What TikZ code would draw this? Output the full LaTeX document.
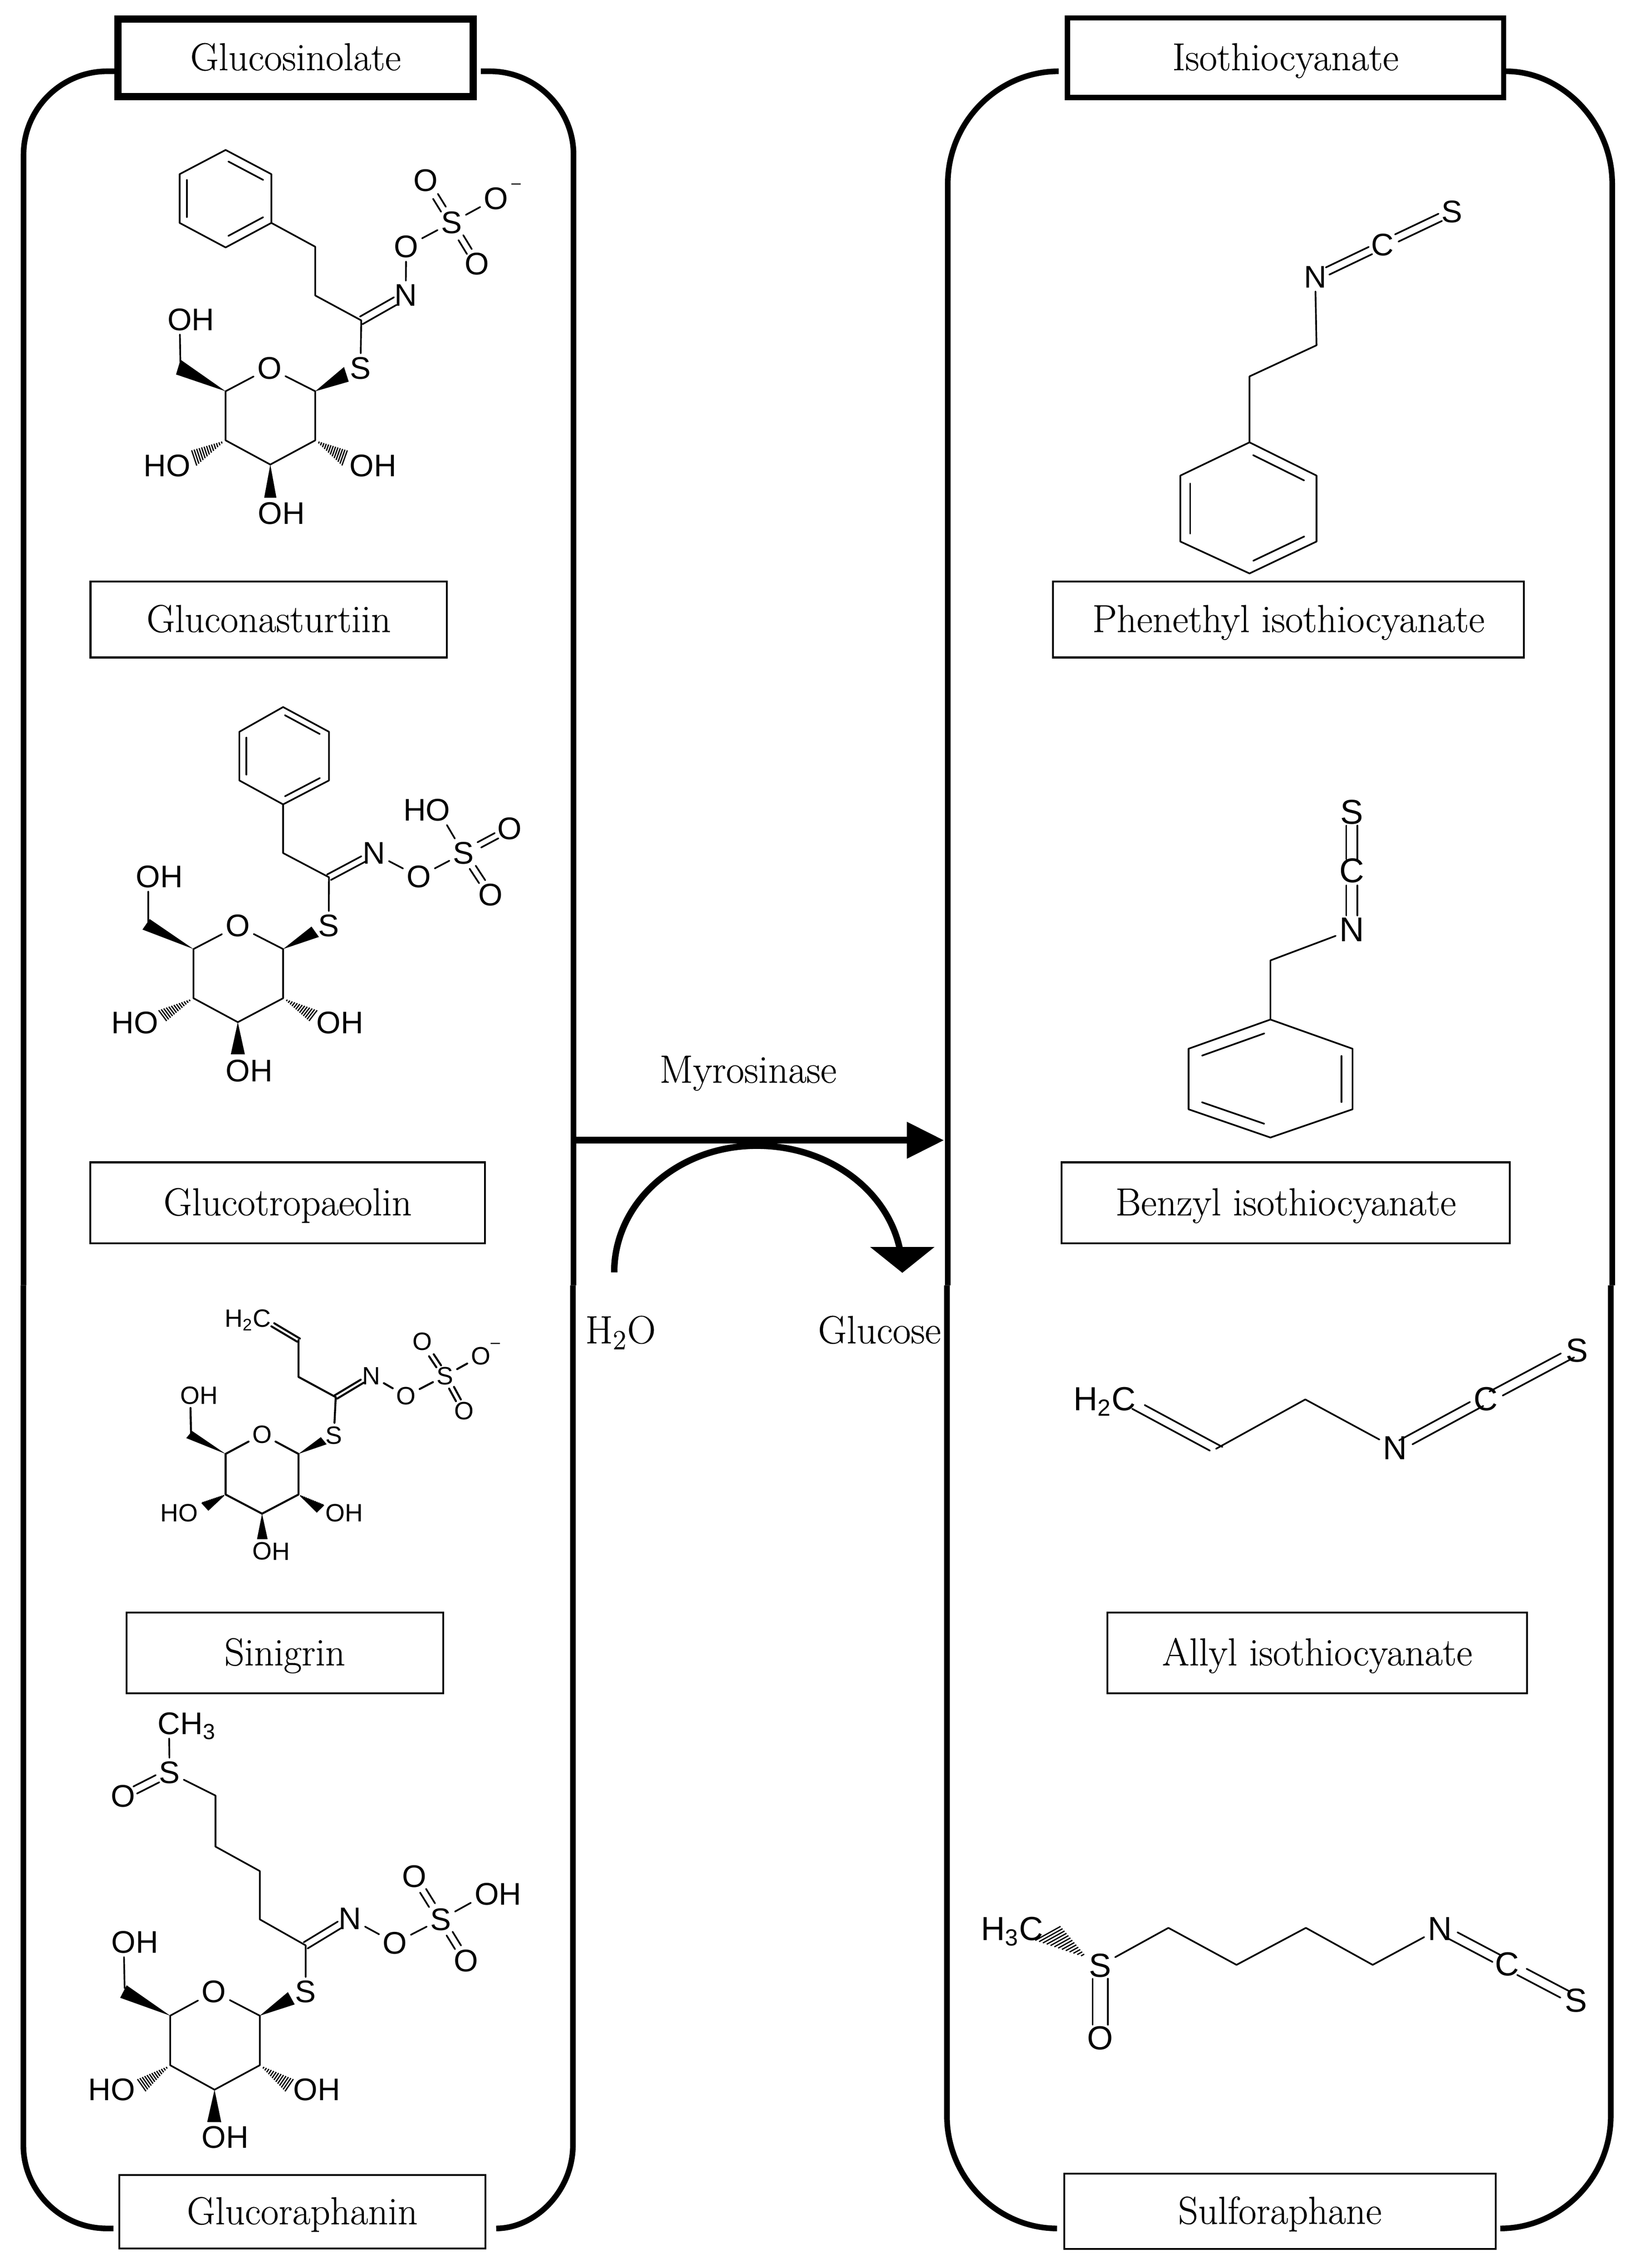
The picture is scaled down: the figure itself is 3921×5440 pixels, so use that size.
\documentclass[tikz,border=0pt]{standalone}
\usepackage{fontspec}
\usetikzlibrary{calc,arrows.meta,bending}
\newfontfamily\cfam{Liberation Sans}
\newfontfamily\tfam{Latin Modern Roman}[FakeBold=0.35]
\def\csz{15}
\def\wsz{4.6pt}
\def\hsz{5pt}
\tikzset{
  bond/.style={line width=0.8pt,line cap=round,line join=round},
  hashl/.style={line width=0.6pt},
  frame/.style={line width=2.7pt},
  atom/.style={inner sep=0pt,outer sep=1.8pt,font=\cfam\fontsize{\csz}{18}\selectfont},
  lab/.style={inner sep=0pt,outer sep=0pt,font=\cfam\fontsize{\csz}{18}\selectfont},
  minus/.style={inner sep=0pt,font=\cfam\fontsize{8}{9}\selectfont},
  txt/.style={inner sep=0pt,font=\tfam\fontsize{18.9}{21}\selectfont},
  box/.style={draw,rectangle,line width=0.9pt,inner sep=0pt,text height=14pt,text depth=2pt,font=\tfam\fontsize{18.7}{21}\selectfont},
  size/.style 2 args={minimum width=#1*0.2pt,minimum height=#2*0.2pt},
}
\newcommand\atomR[4]{\node[atom] (#1) at #2 {#3}; \node[lab,anchor=base west,xshift=-1.8pt] at (#1.base east) {#4};}
\newcommand\atomL[4]{\node[atom] (#1) at #2 {#3}; \node[lab,anchor=base east,xshift=1.8pt] at (#1.base west) {#4};}
\newcommand\dbl[5]{%
  \draw[bond,shorten <=#4,shorten >=#5] ($(#1)!#3!90:(#2)$) -- ($(#2)!#3!-90:(#1)$);
  \draw[bond,shorten <=#4,shorten >=#5] ($(#1)!#3!-90:(#2)$) -- ($(#2)!#3!90:(#1)$);}
\newcommand\inn[3]{\draw[bond] ($(#1)!.12!(#2)!#3!-90:(#2)$) -- ($(#1)!.88!(#2)!#3!90:(#1)$);}
\newcommand\wdg[2]{\fill ($(#2)!\wsz!90:(#1)$) -- ($(#2)!\wsz!-90:(#1)$) -- (#1) -- cycle;}
\newcommand\hsh[2]{\foreach \hf in {0.12,0.19,...,1.0}{\pgfmathsetlengthmacro\hw{\hf*\hsz}%
  \draw[hashl] ($(#1)!\hf!(#2)!\hw!90:(#1)$) -- ($(#1)!\hf!(#2)!\hw!-90:(#1)$);}}
\newcommand\sugar[1]{%
  \draw[bond] (#1C1)--(#1Or)--(#1C5)--(#1C4)--(#1C3)--(#1C2)--(#1C1);
  \wdg{#1C1}{#1wS}
  \wdg{#1C5}{#1wM}
  \wdg{#1C3}{#1wT}
  \hsh{#1C4}{#1hL}
  \hsh{#1C2}{#1hR}
  \draw[bond] (#1M)--(#1Om);
  \draw[bond] (#1CT)--(#1Sg);}
\begin{document}
\begin{tikzpicture}[x=0.2pt,y=-0.2pt]
\useasboundingbox (0,0) rectangle (3921,5440);

% frames
\draw[frame] (274,171) -- (257,171) .. controls (147,171) and (56.5,261) .. (56.5,371) -- (56.5,3083);
\draw[frame] (56,3083) -- (56,5145) .. controls (56,5255) and (146,5345) .. (256,5345) -- (272,5345);
\draw[frame] (1153,171) -- (1175,171) .. controls (1285,171) and (1375.5,261) .. (1375.5,371) -- (1375.5,3083);
\draw[frame] (1374,3083) -- (1374,5145) .. controls (1374,5255) and (1284,5345) .. (1190,5345);
\draw[frame] (2539,171) .. controls (2394,171) and (2273,292) .. (2273,441) -- (2273,3083);
\draw[frame] (2271,3083) -- (2271,5075) .. controls (2271,5224) and (2392,5345) .. (2535,5345);
\draw[frame] (3612,171) .. controls (3745,171) and (3866.5,292) .. (3866.5,441) -- (3866.5,3083);
\draw[frame] (3863,3083) -- (3863,5075) .. controls (3863,5224) and (3742,5345) .. (3598,5345);

% title and name boxes
\node[box,size={852}{186},line width=3.4pt] (glucosinolate) at (709,138.5) {Glucosinolate};
\node[box,size={1046}{191},line width=2.5pt] (isothiocyanate) at (3083,138.5) {Isothiocyanate};
\node[box,size={855}{182}] (gluconasturtiin) at (644.5,1486) {Gluconasturtiin};
\node[box,size={1130}{182}] (phenethyl) at (3090,1486) {Phenethyl isothiocyanate};
\node[box,size={947}{194}] (glucotropaeolin) at (690,2885) {Glucotropaeolin};
\node[box,size={1075}{194}] (benzyl) at (3083.5,2885) {Benzyl isothiocyanate};
\node[box,size={759}{193}] (sinigrin) at (683,3964.5) {Sinigrin};
\node[box,size={1006}{193}] (allyl) at (3159,3964.5) {Allyl isothiocyanate};
\node[box,size={878}{177}] (glucoraphanin) at (725,5305) {Glucoraphanin};
\node[box,size={1035}{180}] (sulforaphane) at (3069.5,5304) {Sulforaphane};

% central reaction
\coordinate (arrS) at (1381,2735);
\coordinate (arrE) at (2264,2735);
\draw[line width=3.2pt,-{Triangle[length=17.8pt,width=16.8pt]}] (arrS) -- (arrE);
\coordinate (curS) at (1473,3052);
\coordinate (curT) at (1815,2748);
\coordinate (curE) at (2164,3053);
\draw[line width=3.1pt,-{Triangle[length=12.4pt,width=30.2pt,flex=0]}]
  (curS) .. controls (1473,2883) and (1626,2748) .. (curT)
  .. controls (2008,2748) and (2164,2883) .. (curE);
\node[txt,anchor=base] (myro) at (1794,2597) {Myrosinase};
\node[txt,anchor=base west] (water) at (1403,3222) {H\textsubscript{2}O};
\node[txt,anchor=base west] (glucose) at (1961,3222) {Glucose};

% Gluconasturtiin
\begin{scope}[shift={(300,300)},xscale=0.6378,yscale=0.8292]
\coordinate (a1) at (378,72); \coordinate (a2) at (550,142); \coordinate (a3) at (550,283);
\coordinate (a4) at (378,354); \coordinate (a5) at (205,283); \coordinate (a6) at (205,142);
\coordinate (a7) at (715,352); \coordinate (a8) at (715,493); \coordinate (aCT) at (888,565);
\draw[bond] (a1)--(a2)--(a3)--(a4)--(a5)--(a6)--cycle;
\inn{a1}{a2}{5.4pt} \inn{a3}{a4}{5.4pt} \inn{a5}{a6}{5.4pt}
\draw[bond] (a3)--(a7)--(a8)--(aCT);
\node[atom] (aN) at (1055,492) {N};
\node[atom] (aO) at (1057,352) {O};
\node[atom] (aSu) at (1228,282) {S};
\node[atom] (aOu) at (1130,160) {O};
\node[atom] (aOm2) at (1395,212) {O};
\node[atom] (aOl) at (1323,402) {O};
\node[minus] (aMin) at (1470,176) {–};
\node[atom] (aSg) at (885,703) {S};
\node[atom] (aOr) at (543,703) {O};
\dbl{aCT}{aN}{2.4pt}{0pt}{5.8pt}
\draw[bond] (aN)--(aO); \draw[bond] (aO)--(aSu); \draw[bond] (aSu)--(aOm2);
\dbl{aSu}{aOu}{2.3pt}{7.5pt}{9pt}
\dbl{aSu}{aOl}{2.3pt}{8.5pt}{7pt}
\coordinate (aC1) at (715,770); \coordinate (aC5) at (378,770); \coordinate (aC4) at (378,912);
\coordinate (aC3) at (546,982); \coordinate (aC2) at (715,912);
\coordinate (awS) at (832,721); \coordinate (awM) at (200,700); \coordinate (awT) at (546,1078);
\coordinate (ahL) at (255,965); \coordinate (ahR) at (830,965); \coordinate (aM) at (208,690);
\atomR{aOm}{(205,563)}{O}{H}
\atomL{aOL}{(200,985)}{O}{H}
\atomR{aOR}{(890,985)}{O}{H}
\atomR{aOB}{(545,1123)}{O}{H}
\sugar{a}
\end{scope}

% Glucotropaeolin
\begin{scope}[shift={(200,1650)},xscale=0.7334,yscale=0.6378]
\coordinate (b1) at (653,72); \coordinate (b2) at (803,165); \coordinate (b3) at (803,348);
\coordinate (b4) at (653,438); \coordinate (b5) at (510,348); \coordinate (b6) at (510,165);
\coordinate (b7) at (653,621); \coordinate (bCT) at (803,712);
\draw[bond] (b1)--(b2)--(b3)--(b4)--(b5)--(b6)--cycle;
\inn{b1}{b2}{4.6pt} \inn{b3}{b4}{4.6pt} \inn{b5}{b6}{4.6pt}
\draw[bond] (b4)--(b7)--(bCT);
\node[atom] (bN) at (950,622) {N};
\node[atom] (bO) at (1097,710) {O};
\node[atom] (bSu) at (1243,622) {S};
\atomL{bOH}{(1160,460)}{O}{H}
\node[atom] (bOu) at (1393,530) {O};
\node[atom] (bOl) at (1332,778) {O};
\node[atom] (bSg) at (802,895) {S};
\node[atom] (bOr) at (505,895) {O};
\dbl{bCT}{bN}{2.4pt}{0pt}{5.8pt}
\draw[bond] (bN)--(bO); \draw[bond] (bO)--(bSu); \draw[bond] (bSu)--(bOH);
\dbl{bSu}{bOu}{2.3pt}{8.6pt}{7pt}
\dbl{bSu}{bOl}{2.3pt}{8pt}{7.5pt}
\coordinate (bC1) at (653,982); \coordinate (bC5) at (360,982); \coordinate (bC4) at (360,1167);
\coordinate (bC3) at (505,1257); \coordinate (bC2) at (653,1167);
\coordinate (bwS) at (758,917); \coordinate (bwM) at (205,889); \coordinate (bwT) at (505,1378);
\coordinate (bhL) at (255,1235); \coordinate (bhR) at (755,1235); \coordinate (bM) at (212,880);
\atomR{bOm}{(212,710)}{O}{H}
\atomL{bOL}{(205,1260)}{O}{H}
\atomR{bOR}{(802,1260)}{O}{H}
\atomR{bOB}{(505,1440)}{O}{H}
\sugar{b}
\end{scope}

% Sinigrin
\begin{scope}[shift={(300,3050)},xscale=0.6378,yscale=0.5102]
\def\csz{12}\def\wsz{4pt}\def\hsz{4.6pt}
\tikzset{bond/.append style={line width=0.95pt},hashl/.style={line width=1.1pt}}
\atomL{cC}{(515,220)}{C}{H\textsubscript{2}}
\coordinate (c2) at (652,322); \coordinate (c3) at (652,495); \coordinate (cCT) at (792,590);
\dbl{cC}{c2}{1.8pt}{6pt}{0pt}
\draw[bond] (c2)--(c3)--(cCT);
\node[atom] (cN) at (925,490) {N};
\node[atom] (cO) at (1057,585) {O};
\node[atom] (cSu) at (1203,490) {S};
\node[atom] (cOu) at (1117,328) {O};
\node[atom] (cOm2) at (1337,397) {O};
\node[atom] (cOl) at (1275,655) {O};
\node[minus] (cMin) at (1392,348) {–};
\node[atom] (cSg) at (785,770) {S};
\node[atom] (cOr) at (515,765) {O};
\dbl{cCT}{cN}{1.8pt}{0pt}{5pt}
\draw[bond] (cN)--(cO); \draw[bond] (cO)--(cSu); \draw[bond] (cSu)--(cOm2);
\dbl{cSu}{cOu}{2pt}{5.5pt}{8pt}
\dbl{cSu}{cOl}{2pt}{6.5pt}{5.8pt}
\coordinate (cC1) at (652,857); \coordinate (cC5) at (378,857); \coordinate (cC4) at (378,1048);
\coordinate (cC3) at (515,1138); \coordinate (cC2) at (652,1048);
\coordinate (cwS) at (747,795); \coordinate (cwM) at (241,766); \coordinate (cwT) at (516,1258);
\coordinate (chL) at (300,1105); \coordinate (chR) at (735,1115); \coordinate (cM) at (248,765);
\atomR{cOm}{(245,582)}{O}{H}
\atomL{cOL}{(238,1135)}{O}{H}
\atomR{cOR}{(791,1135)}{O}{H}
\atomR{cOB}{(516,1315)}{O}{H}
\sugar{c}
\end{scope}

% Glucoraphanin
\begin{scope}[shift={(150,4050)},scale=0.7334]
\atomR{dC}{(348,115)}{C}{H\textsubscript{3}}
\node[atom] (dS) at (350,275) {S};
\node[atom] (dO1) at (198,352) {O};
\coordinate (d1) at (500,350); \coordinate (d2) at (500,517); \coordinate (d3) at (645,597);
\coordinate (d4) at (645,755); \coordinate (dCT) at (795,840);
\draw[bond] (dC)--(dS);
\dbl{dS}{dO1}{2.6pt}{6.5pt}{6.5pt}
\draw[bond] (dS)--(d1)--(d2)--(d3)--(d4)--(dCT);
\node[atom] (dN) at (940,752) {N};
\node[atom] (dO) at (1087,832) {O};
\node[atom] (dSu) at (1237,755) {S};
\atomR{dOH}{(1387,672)}{O}{H}
\node[atom] (dOu) at (1150,615) {O};
\node[atom] (dOl) at (1320,890) {O};
\node[atom] (dSg) at (795,992) {S};
\node[atom] (dOr) at (495,992) {O};
\dbl{dCT}{dN}{2.4pt}{0pt}{5.8pt}
\draw[bond] (dN)--(dO); \draw[bond] (dO)--(dSu); \draw[bond] (dSu)--(dOH);
\dbl{dSu}{dOu}{2.3pt}{8pt}{8pt}
\dbl{dSu}{dOl}{2.3pt}{8pt}{7.5pt}
\coordinate (dC1) at (645,1070); \coordinate (dC5) at (352,1070); \coordinate (dC4) at (352,1232);
\coordinate (dC3) at (497,1312); \coordinate (dC2) at (645,1232);
\coordinate (dwS) at (748,1013); \coordinate (dwM) at (199,991); \coordinate (dwT) at (496,1418);
\coordinate (dhL) at (255,1300); \coordinate (dhR) at (745,1300); \coordinate (dM) at (203,980);
\atomR{dOm}{(200,830)}{O}{H}
\atomL{dOL}{(198,1312)}{O}{H}
\atomR{dOR}{(795,1312)}{O}{H}
\atomR{dOB}{(495,1468)}{O}{H}
\sugar{d}
\end{scope}

% Phenethyl isothiocyanate
\begin{scope}[shift={(2700,420)},scale=0.6378]
\coordinate (e1) at (465,1005); \coordinate (e2) at (717,1130); \coordinate (e3) at (717,1378);
\coordinate (e4) at (465,1498); \coordinate (e5) at (205,1378); \coordinate (e6) at (205,1130);
\coordinate (e7) at (465,757); \coordinate (e8) at (717,640);
\draw[bond] (e1)--(e2)--(e3)--(e4)--(e5)--(e6)--cycle;
\inn{e1}{e2}{7.4pt} \inn{e3}{e4}{7.4pt} \inn{e5}{e6}{7.4pt}
\node[atom] (eN) at (712,383) {N};
\node[atom] (eC) at (965,262) {C};
\node[atom] (eS) at (1226,138) {S};
\draw[bond] (e1)--(e7)--(e8)--(eN);
\dbl{eN}{eC}{3pt}{6.6pt}{6.4pt}
\dbl{eC}{eS}{3pt}{7.6pt}{6.2pt}
\end{scope}

% Benzyl isothiocyanate
\begin{scope}[shift={(2750,1880)},scale=0.5740]
\def\csz{16.5}
\coordinate (f1) at (517,985); \coordinate (f2) at (860,1107); \coordinate (f3) at (860,1360);
\coordinate (f4) at (517,1478); \coordinate (f5) at (175,1360); \coordinate (f6) at (175,1107);
\coordinate (f7) at (517,738);
\draw[bond] (f1)--(f2)--(f3)--(f4)--(f5)--(f6)--cycle;
\inn{f2}{f3}{9.2pt} \inn{f4}{f5}{9.2pt} \inn{f6}{f1}{9.2pt}
\node[atom] (fN) at (857,610) {N};
\node[atom] (fC) at (857,362) {C};
\node[atom] (fS) at (857,118) {S};
\draw[bond] (f1)--(f7)--(fN);
\dbl{fN}{fC}{4.6pt}{6.9pt}{7.2pt}
\dbl{fC}{fS}{4.6pt}{5.4pt}{6.5pt}
\end{scope}

% Allyl isothiocyanate
\begin{scope}[shift={(2550,3150)},xscale=0.8292,yscale=0.3333]
\def\csz{16}
\atomL{gC1}{(175,617)}{C}{H\textsubscript{2}}
\coordinate (g2) at (442,975); \coordinate (g3) at (700,620);
\node[atom] (gN) at (960,970) {N};
\node[atom] (gC) at (1222,617) {C};
\node[atom] (gS) at (1485,268) {S};
\dbl{gC1}{g2}{4.5pt}{8pt}{0pt}
\draw[bond] (g2)--(g3)--(gN);
\dbl{gN}{gC}{4.8pt}{5.8pt}{5pt}
\dbl{gC}{gS}{4.8pt}{5.6pt}{5pt}
\end{scope}

% Sulforaphane
\begin{scope}[shift={(2300,4500)},xscale=1.0204,yscale=0.5995]
\def\hsz{8.5pt}\def\csz{16}
\atomL{hC1}{(170,210)}{C}{H\textsubscript{3}}
\node[atom] (hS) at (332,357) {S};
\node[atom] (hO) at (332,648) {O};
\coordinate (h1) at (492,207); \coordinate (h2) at (652,355); \coordinate (h3) at (815,207);
\coordinate (h4) at (972,355);
\node[atom] (hN) at (1130,210) {N};
\node[atom] (hC) at (1288,352) {C};
\node[atom] (hT) at (1450,497) {S};
\coordinate (hhA) at (302,328); \coordinate (hhB) at (205,225);
\hsh{hhA}{hhB}
\dbl{hS}{hO}{3.6pt}{6.4pt}{6.4pt}
\draw[bond] (hS)--(h1)--(h2)--(h3)--(h4)--(hN);
\dbl{hN}{hC}{3.3pt}{7pt}{5.4pt}
\dbl{hC}{hT}{3.3pt}{8pt}{6pt}
\end{scope}
\end{tikzpicture}
\end{document}
